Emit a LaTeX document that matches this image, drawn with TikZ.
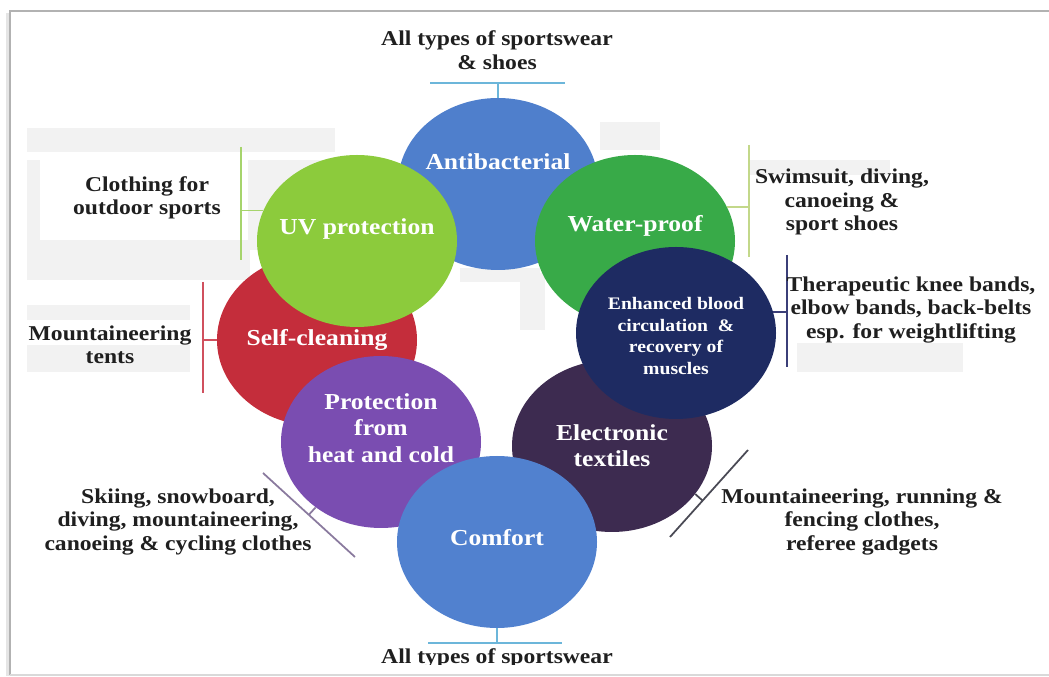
\documentclass[tikz,border=0pt]{standalone}
\usepackage{fontspec}
\setmainfont{Liberation Serif}[FakeStretch=1.12]
\usepackage{tikz}
\usetikzlibrary{shapes.geometric, positioning, calc}
\definecolor{AntiBlue}{HTML}{4F7FCC}
\definecolor{UVLime}{HTML}{8CCB3C}
\definecolor{WaterGreen}{HTML}{38AA48}
\definecolor{CleanRed}{HTML}{C42D3B}
\definecolor{HeatViolet}{HTML}{7A4DB1}
\definecolor{ETextPlum}{HTML}{3D2B50}
\definecolor{BloodNavy}{HTML}{1E2B62}
\definecolor{ComfortBlue}{HTML}{5181CF}
\definecolor{TickBlue}{HTML}{6CB6DA}
\definecolor{TickLime}{HTML}{A6D46C}
\definecolor{TickRed}{HTML}{D0505E}
\definecolor{TickPale}{HTML}{C3D88A}
\definecolor{TickNavy}{HTML}{3B3F78}
\definecolor{TickMauve}{HTML}{8A7A9E}
\definecolor{TickDark}{HTML}{4A4A55}

\begin{document}
\begin{tikzpicture}[x=0.2mm, y=-0.2mm,
    blob/.style={ellipse, minimum width=40mm, minimum height=34.4mm, inner sep=0pt},
    blobtext/.style={text=white, align=center, font=\bfseries\fontsize{13}{15}\selectfont},
    smalltext/.style={text=white, align=center, font=\bfseries\fontsize{10}{12.2}\selectfont},
    usage/.style={align=center, text=black!88, font=\bfseries\fontsize{12}{13.4}\selectfont},
    bar/.style={line width=1pt}]
  \useasboundingbox (0,0) rectangle (1049,677);
  % faint grey blocks left over behind the labels
  \foreach \a/\b/\c/\d in {27/128/335/152, 27/160/40/280, 27/240/250/280, 248/160/335/250,
      27/305/190/320, 27/345/190/372, 600/122/660/150, 750/160/890/175,
      797/343/963/372, 460/268/540/282, 520/273/545/330} {
    \fill[black!5] (\a,\b) rectangle (\c,\d);
  }
  % page frame
  \draw[black!10, line width=2.5pt] (8,676) -- (8,13);
  \draw[black!30, line width=1pt] (10,675) -- (10,11) -- (1049,11);
  \draw[black!15, line width=1pt] (10,675) -- (1049,675);

  % the eight bubbles, back to front
  \node[blob, fill=AntiBlue, label={[blobtext, yshift=4.4mm]center:Antibacterial}] (anti) at (498,184) {};
  \node[blob, fill=CleanRed, label={[blobtext]center:Self-cleaning}] (clean) at (317,340) {};
  \node[blob, fill=UVLime, label={[blobtext, yshift=2.4mm]center:UV protection}] (uv) at (357,241) {};
  \node[blob, fill=WaterGreen, label={[blobtext, yshift=3mm]center:Water-proof}] (water) at (635,241) {};
  \node[blob, fill=ETextPlum, label={[blobtext]center:{Electronic\\textiles}}] (etex) at (612,446) {};
  \node[blob, fill=BloodNavy, label={[smalltext, yshift=-0.6mm]center:{Enhanced blood\\circulation \ \&\\recovery of\\muscles}}] (blood) at (676,333) {};
  \node[blob, fill=HeatViolet, label={[blobtext, yshift=2.8mm]center:{Protection\\from\\heat and cold}}] (heat) at (381,442) {};
  \node[blob, fill=ComfortBlue, label={[blobtext, yshift=0.8mm]center:Comfort}] (comfort) at (497,542) {};

  % top: antibacterial
  \coordinate (antiBarL) at (430,83);
  \coordinate (antiBarR) at (565,83);
  \draw[bar, TickBlue] (antiBarL) -- (antiBarR);
  \draw[bar, TickBlue] (anti.north) -- (anti.north |- antiBarL);
  \node[usage] (antiUse) at (497,50) {All types of sportswear\\\& shoes};

  % uv protection
  \coordinate (uvBarT) at (241,147);
  \coordinate (uvBarB) at (241,260);
  \draw[bar, TickLime] (uvBarT) -- (uvBarB);
  \draw[bar, TickLime] (uv.162) -- (uv.162 -| uvBarT);
  \node[usage] (uvUse) at (147,198) {Clothing for\\outdoor sports};

  % self-cleaning
  \coordinate (cleanBarT) at (203,282);
  \coordinate (cleanBarB) at (203,393);
  \draw[bar, TickRed] (cleanBarT) -- (cleanBarB);
  \draw[bar, TickRed] (clean.west) -- (clean.west -| cleanBarT);
  \node[usage] (cleanUse) at (110,345) {Mountaineering\\tents};

  % water-proof
  \coordinate (waterBarT) at (749,145);
  \coordinate (waterBarB) at (749,257);
  \draw[bar, TickPale] (waterBarT) -- (waterBarB);
  \draw[bar, TickPale] (water.20) -- (water.20 -| waterBarT);
  \node[usage] (waterUse) at (842,202) {Swimsuit, diving,\\canoeing \&\\sport shoes};

  % blood circulation
  \coordinate (bloodBarT) at (787,255);
  \coordinate (bloodBarB) at (787,367);
  \draw[bar, TickNavy] (bloodBarT) -- (bloodBarB);
  \draw[bar, TickNavy] (blood.12) -- (blood.12 -| bloodBarT);
  \node[usage] (bloodUse) at (911,310) {Therapeutic knee bands,\\elbow bands, back-belts\\esp. for weightlifting};

  % heat and cold
  \coordinate (heatBarA) at (263,473);
  \coordinate (heatBarB) at (355,557);
  \draw[bar, TickMauve] (heatBarA) -- (heatBarB);
  \draw[bar, TickMauve] (heat.225) -- ($(heatBarA)!(heat.225)!(heatBarB)$);
  \node[usage] (heatUse) at (178,522) {Skiing, snowboard,\\diving, mountaineering,\\canoeing \& cycling clothes};

  % electronic textiles
  \coordinate (etexBarA) at (748,450);
  \coordinate (etexBarB) at (670,537);
  \draw[bar, TickDark] (etexBarA) -- (etexBarB);
  \draw[bar, TickDark] (etex.330) -- ($(etexBarA)!(etex.330)!(etexBarB)$);
  \node[usage] (etexUse) at (862,522) {Mountaineering, running \&\\fencing clothes,\\referee gadgets};

  % bottom: comfort
  \coordinate (comfBarL) at (428,643);
  \coordinate (comfBarR) at (562,643);
  \draw[bar, TickBlue] (comfBarL) -- (comfBarR);
  \draw[bar, TickBlue] (comfort.south) -- (comfort.south |- comfBarL);
  \begin{scope}
    \clip (0,0) rectangle (1049,665);
    \node[usage] (comfUse) at (497,658) {All types of sportswear};
  \end{scope}
\end{tikzpicture}
\end{document}
